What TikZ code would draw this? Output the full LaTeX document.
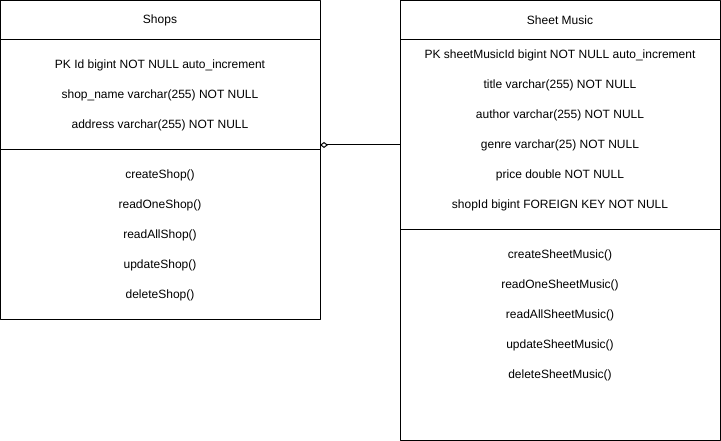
\documentclass[tikz,border=0pt]{standalone}
\usepackage{fontspec}
\setmainfont{Liberation Sans}
\usetikzlibrary{arrows.meta}
\begin{document}
\begin{tikzpicture}[x=0.75pt,y=-0.75pt, font=\fontsize{9}{11}\selectfont, line width=0.75pt, line join=round]
			\useasboundingbox (0,0) rectangle (721,441);
			\coordinate (agg) at (320,145);
			\coordinate (fk) at (400,145);
			% Shops table
			\draw (0.5,0.5) rectangle (320,320) (0.5,40)--(320,40) (0.5,150)--(320,150);
			\node (shops) at (160,20) {Shops};
			\node (sa1) at (160,65) {PK Id bigint NOT NULL auto\_increment};
			\node (sa2) at (160,95) {shop\_name varchar(255) NOT NULL};
			\node (sa3) at (160,125) {address varchar(255) NOT NULL};
			\foreach \m [count=\i] in {createShop,readOneShop,readAllShop,updateShop,deleteShop}
				\node (sm\i) at (160,145+30*\i) {\m()};
			% Sheet Music table
			\draw (400,0.5) rectangle (720,440) (400,40)--(720,40) (400,230)--(720,230);
			\node (music) at (560,20) {Sheet Music};
			\node (ma1) at (560,55) {PK sheetMusicId bigint NOT NULL auto\_increment};
			\node (ma2) at (560,85) {title varchar(255) NOT NULL};
			\node (ma3) at (560,115) {author varchar(255) NOT NULL};
			\node (ma4) at (560,145) {genre varchar(25) NOT NULL};
			\node (ma5) at (560,175) {price double NOT NULL};
			\node (ma6) at (560,205) {shopId bigint FOREIGN KEY NOT NULL};
			\foreach \m [count=\i] in {createSheetMusic,readOneSheetMusic,readAllSheetMusic,updateSheetMusic,deleteSheetMusic}
				\node (mm\i) at (560,225+30*\i) {\m()};
			\draw[{Diamond[open,length=6pt,width=4.5pt]}-] (agg)--(fk);
		\end{tikzpicture}
\end{document}
